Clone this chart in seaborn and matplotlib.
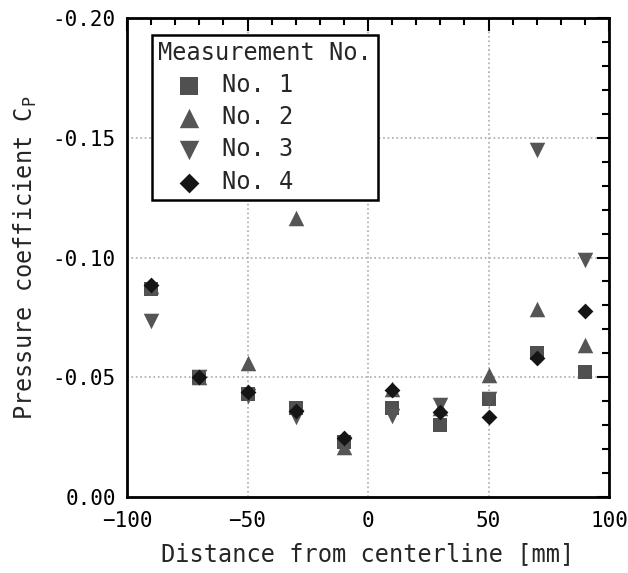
import numpy as np
import pandas as pd
import matplotlib
matplotlib.use("Agg")
import matplotlib.pyplot as plt
from matplotlib.ticker import MultipleLocator, FormatStrFormatter
import seaborn as sns

sns.set_theme(style="white")
plt.rcParams["font.family"] = ["DejaVu Sans Mono"]
plt.rcParams["mathtext.fontset"] = "custom"
plt.rcParams["mathtext.rm"] = "DejaVu Sans Mono"
plt.rcParams["axes.unicode_minus"] = True

x_mm = [-90, -70, -50, -30, -10, 10, 30, 50, 70, 90]
no1 = [-0.087, -0.050, -0.043, -0.037, -0.023, -0.037, -0.030, -0.041, -0.060, -0.052]
no2 = [-0.088, -0.050, -0.056, -0.1165, -0.021, -0.045, -0.037, -0.051, -0.0785, -0.0635]
no3 = [-0.0735, -0.050, -0.042, -0.0335, -0.022, -0.034, -0.0385, -0.041, -0.145, -0.099]
no4 = [-0.0885, -0.050, -0.044, -0.036, -0.0245, -0.0445, -0.0355, -0.0335, -0.058, -0.0775]

series = {"No. 1": no1, "No. 2": no2, "No. 3": no3, "No. 4": no4}
df = pd.DataFrame([(k, x, v) for k, vals in series.items() for x, v in zip(x_mm, vals)],
                  columns=["Measurement No.", "x", "cp"])

palette = {"No. 1": "#505050", "No. 2": "#555555", "No. 3": "#555555", "No. 4": "#151515"}
markers = {"No. 1": "s", "No. 2": "^", "No. 3": "v", "No. 4": "D"}
sizes = {"No. 1": 105, "No. 2": 125, "No. 3": 125, "No. 4": 65}

fig = plt.figure(figsize=(6.28, 5.73), dpi=100)
ax = fig.add_axes([127 / 628, 1 - 497 / 573, 482 / 628, 479 / 573])

for name in series:
    sns.scatterplot(data=df[df["Measurement No."] == name], x="x", y="cp",
                    color=palette[name], marker=markers[name], s=sizes[name],
                    linewidth=0, label=name, ax=ax, zorder=3)

ax.set_xlim(-100, 100)
ax.set_ylim(0.0, -0.20)
ax.xaxis.set_major_locator(MultipleLocator(50))
ax.xaxis.set_minor_locator(MultipleLocator(10))
ax.yaxis.set_major_locator(MultipleLocator(0.05))
ax.yaxis.set_minor_locator(MultipleLocator(0.01))
ax.yaxis.set_major_formatter(FormatStrFormatter("%.2f"))
ax.tick_params(which="both", direction="in", top=True, right=True, labelsize=15, colors="black")
ax.tick_params(which="major", length=9, width=1.5)
ax.tick_params(which="minor", length=5, width=1.5)
ax.tick_params(axis="x", pad=10)
ax.tick_params(axis="y", pad=8)
ax.grid(True, which="major", linestyle=":", color="#aaaaaa", linewidth=1.2)
for sp in ax.spines.values():
    sp.set_linewidth(2)
    sp.set_color("black")

ax.set_xlabel("Distance from centerline [mm]", fontsize=17, labelpad=8)
ax.set_ylabel("Pressure coefficient C$_\\mathrm{P}$", fontsize=17, labelpad=10)

leg = ax.legend(title="Measurement No.", loc="upper left", fontsize=17, title_fontsize=17,
                frameon=True, fancybox=False, edgecolor="black", framealpha=1,
                borderaxespad=0, borderpad=0.25, handlelength=2.6, handletextpad=0.1,
                labelspacing=0.35, markerscale=1.25, bbox_to_anchor=(0.052, 0.965))
leg.get_frame().set_linewidth(1.8)
leg._legend_box.align = "left"

fig.savefig("out.png", dpi=100)
